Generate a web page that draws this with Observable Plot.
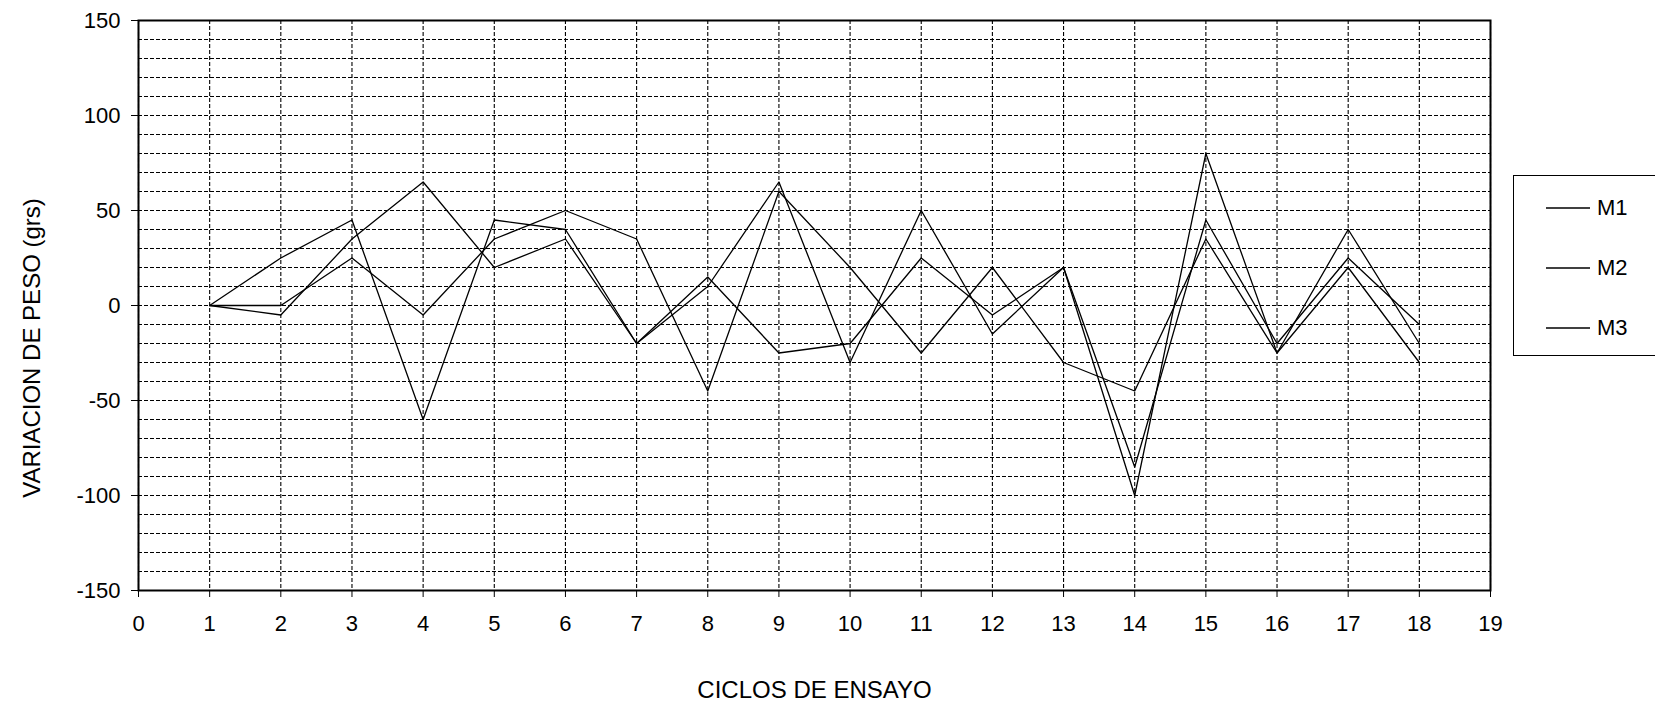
<!DOCTYPE html>
<html>
<head>
<meta charset="utf-8">
<script src="https://cdn.jsdelivr.net/npm/d3@7"></script>
<script src="https://cdn.jsdelivr.net/npm/@observablehq/plot@0.6"></script>
<style>
  html, body { margin: 0; padding: 0; background: #fff; overflow: hidden; }
  body { width: 1655px; height: 705px; position: relative; font-family: "Liberation Sans", Arial, sans-serif; }
  #chart { position: absolute; left: 0; top: 0; }
  #ytitle { position: absolute; left: 32px; top: 348px; transform: translate(-50%, -50%) rotate(-90deg); white-space: nowrap; font-size: 24px; color: #000; line-height: 1; }
  #legend { position: absolute; left: 1513px; top: 175px; width: 170px; height: 181px; border: 1.5px solid #000; box-sizing: border-box; }
  .item { position: absolute; left: 0; height: 30px; display: flex; align-items: center; }
  .item svg { margin-left: 32px; }
  .item span { margin-left: 7px; font-size: 22px; color: #000; }
</style>
</head>
<body>
<div id="chart"></div>
<div id="ytitle"></div>
<div id="legend"></div>
<script>
// ---- data ----
const cycles = [1, 2, 3, 4, 5, 6, 7, 8, 9, 10, 11, 12, 13, 14, 15, 16, 17, 18];
const M1 = [0, 25, 45, -60, 45, 40, -20, 10, 65, -30, 50, -15, 20, -100, 80, -25, 40, -20];
const M2 = [0, 0, 25, -5, 35, 50, 35, -45, 60, 20, -25, 20, -30, -45, 35, -25, 20, -30];
const M3 = [0, -5, 35, 65, 20, 35, -20, 15, -25, -20, 25, -5, 20, -85, 45, -20, 25, -10];
const seriesNames = ["M1", "M2", "M3"];
const xTicks = [0, 1, 2, 3, 4, 5, 6, 7, 8, 9, 10, 11, 12, 13, 14, 15, 16, 17, 18, 19];
const yTicks = [-150, -100, -50, 0, 50, 100, 150];
const yGrid = [-140, -130, -120, -110, -100, -90, -80, -70, -60, -50, -40, -30, -20, -10, 0,
               10, 20, 30, 40, 50, 60, 70, 80, 90, 100, 110, 120, 130, 140];
const xTitle = "CICLOS DE ENSAYO";
const yTitle = "VARIACION DE PESO (grs)";

const seriesValues = [M1, M2, M3];
const rows = [];
seriesNames.forEach((name, i) => {
  cycles.forEach((c, j) => rows.push({serie: name, ciclo: c, valor: seriesValues[i][j]}));
});

const fontFamily = "'Liberation Sans', Arial, sans-serif";

const chart = Plot.plot({
  width: 1655,
  height: 705,
  marginLeft: 138,
  marginRight: 165,
  marginTop: 20,
  marginBottom: 115,
  style: {fontFamily, fontSize: "22px", color: "#000", background: "#fff"},
  x: {domain: [0, 19], label: null},
  y: {domain: [-150, 150], label: null},
  marks: [
    Plot.gridY(yGrid, {stroke: "#000", strokeOpacity: 1, strokeWidth: 1.1, strokeDasharray: "4,2"}),
    Plot.gridX(xTicks, {stroke: "#000", strokeOpacity: 1, strokeWidth: 1.1, strokeDasharray: "4,2"}),
    Plot.line(rows, {x: "ciclo", y: "valor", z: "serie", stroke: "#000", strokeWidth: 1.3}),
    Plot.frame({stroke: "#000", strokeWidth: 2}),
    Plot.axisX({ticks: xTicks, tickSize: 7, tickPadding: 18, fontSize: 22, label: null, tickFormat: d => String(d)}),
    Plot.axisY({ticks: yTicks, tickSize: 7, tickPadding: 11, fontSize: 22, label: null, tickFormat: d => String(d)}),
    Plot.text([xTitle], {frameAnchor: "bottom", dy: 100, fontSize: 24, fill: "#000", lineAnchor: "middle"})
  ]
});
document.getElementById("chart").appendChild(chart);
document.getElementById("ytitle").textContent = yTitle;

// legend
const legend = document.getElementById("legend");
const rowTops = [17, 77, 137];
seriesNames.forEach((name, i) => {
  const item = document.createElement("div");
  item.className = "item";
  item.style.top = rowTops[i] + "px";
  item.innerHTML = `<svg width="44" height="4"><line x1="0" x2="44" y1="2" y2="2" stroke="#000" stroke-width="1.3"/></svg><span>${name}</span>`;
  legend.appendChild(item);
});
</script>
</body>
</html>
